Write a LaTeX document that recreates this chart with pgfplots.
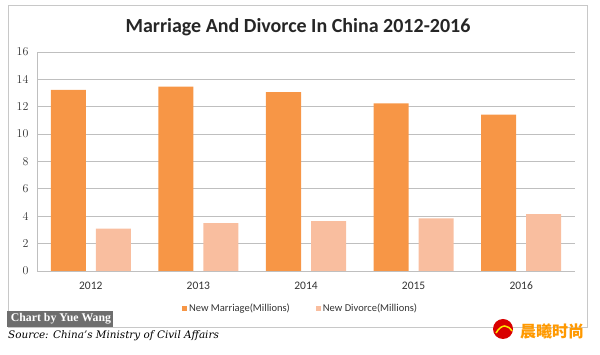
\documentclass[border=0pt]{standalone}
\usepackage{pgfplots}
\pgfplotsset{compat=1.18}
\usepackage{fontspec}
\setmainfont{Carlito}
\newfontfamily\serifx{DejaVu Serif}
\newfontfamily\serifb{Liberation Serif}
\newfontfamily\cjk{Noto Sans CJK SC}
\definecolor{marr}{HTML}{F79646}
\definecolor{divc}{HTML}{F9BE9F}
\definecolor{gridgray}{HTML}{BFBFBF}
\definecolor{framegray}{HTML}{C8C8C8}
\definecolor{boxgray}{HTML}{6E6E6E}
\begin{document}
\begin{tikzpicture}[x=1pt,y=1pt]
\path[use as bounding box] (0,0) rectangle (600,355);
\draw[framegray, line width=0.8pt] (8,28) rectangle (587,350);
\node[font=\bfseries\fontsize{20}{22}\selectfont, text=black!85] at (298,328) {Marriage And Divorce In China 2012-2016};
\begin{axis}[
  at={(37pt,84pt)}, anchor=south west,
  scale only axis, width=538pt, height=219pt,
  xmin=-0.5, xmax=4.5, ymin=0, ymax=16,
  ybar=10pt, bar width=35pt,
  xtick={0,1,2,3,4}, xticklabels={2012,2013,2014,2015,2016},
  ytick={0,2,...,16},
  axis x line*=bottom, axis y line*=left,
  axis line style={draw=gridgray, line width=0.8pt, -},
  ymajorgrids, grid style={gridgray, line width=0.8pt},
  tick style={draw=none},
  yticklabel style={font=\fontsize{11.5}{12}\selectfont, text=black!80, xshift=-5pt},
  xticklabel style={font=\fontsize{11.5}{12}\selectfont, text=black!80, yshift=-3pt},
  legend columns=2,
  legend style={at={(0.49,-0.169)}, anchor=center, draw=none, fill=none,
    font=\fontsize{10.5}{11}\selectfont, text=black!80,
    /tikz/every even column/.append style={column sep=24pt}},
]
\addplot[fill=marr, draw=none, legend image code/.code={\fill[marr] (0pt,-2.5pt) rectangle (5pt,2.5pt);}]
  coordinates {(0,13.24) (1,13.47) (2,13.07) (3,12.25) (4,11.43)};
\addlegendentry{New Marriage(Millions)}
\addplot[fill=divc, draw=none, legend image code/.code={\fill[divc] (0pt,-2.5pt) rectangle (5pt,2.5pt);}]
  coordinates {(0,3.10) (1,3.50) (2,3.64) (3,3.84) (4,4.16)};
\addlegendentry{New Divorce(Millions)}
\end{axis}
\fill[boxgray] (7,28) rectangle (113,44);
\node[text=white, font=\serifb\bfseries\fontsize{11.8}{13}\selectfont, inner sep=0pt] at (61,36) {Chart by Yue Wang};
\node[anchor=west, inner sep=0pt, font=\serifx\itshape\fontsize{10.4}{12}\selectfont] at (8,19) {Source: China’s Ministry of Civil Affairs};
\fill[red!85!black] (503,26) circle (10);
\draw[yellow!90!orange, line width=1.5pt] (496,22) .. controls (502,32) and (508,30) .. (512,24);
\node[font=\cjk\bfseries\fontsize{16}{16}\selectfont, text=orange!80!yellow, anchor=west, inner sep=0pt] at (520,24) {晨曦时尚};
\end{tikzpicture}
\end{document}
